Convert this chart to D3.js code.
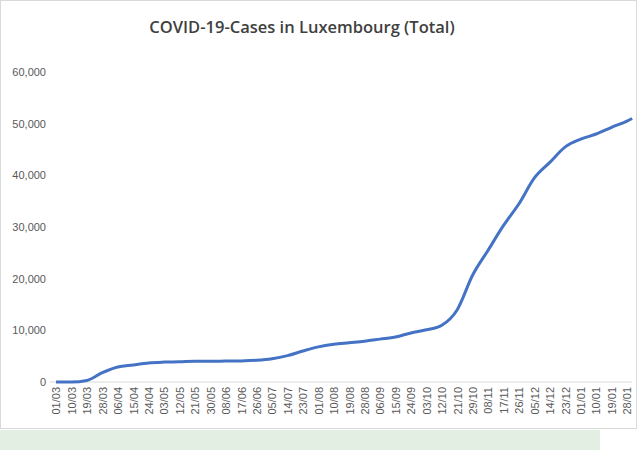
<!DOCTYPE html>
<html><head><meta charset="utf-8">
<script src="https://cdn.jsdelivr.net/npm/d3@7"></script>
<style>body{margin:0;background:#fff;font-family:"Open Sans","Liberation Sans",sans-serif}</style>
</head><body><svg id="c" width="644" height="450"></svg>
<script>
const tickLabels=["01/03","10/03","19/03","28/03","06/04","15/04","24/04","03/05","12/05","21/05","30/05","08/06","17/06","26/06","05/07","14/07","23/07","01/08","10/08","19/08","28/08","06/09","15/09","24/09","03/10","12/10","21/10","29/10","08/11","17/11","26/11","05/12","14/12","23/12","01/01","10/01","19/01","28/01"];
const dayIndex=[0,9,18,27,36,45,54,63,72,81,90,99,108,117,126,135,144,153,162,171,180,189,198,207,216,225,234,243,252,261,270,279,288,297,306,315,324,333,336];
const cases=[0,0,300,1800,2900,3300,3700,3850,3900,4000,4000,4050,4080,4200,4500,5100,6000,6800,7300,7600,7900,8300,8700,9500,10100,11000,14000,20700,25500,30300,34500,39500,42500,45500,47000,48000,49300,50500,51000];
const yTicks=[0,10000,20000,30000,40000,50000,60000];

const svg=d3.select("#c");
svg.append("rect").attr("x",0).attr("y",430).attr("width",600).attr("height",20).attr("fill","#e2efe2");
svg.append("rect").attr("x",0.5).attr("y",0.5).attr("width",636).attr("height",428).attr("fill","#fff").attr("stroke","#d9d9d9");
const x=d3.scaleLinear().domain([0,333]).range([56,627]);
const y=d3.scaleLinear().domain([0,60000]).range([382,72]);
svg.append("text").attr("x",302).attr("y",33).attr("text-anchor","middle").attr("font-size",16.5).attr("font-weight",600).attr("fill","#404040").text("COVID-19-Cases in Luxembourg (Total)");
const ya=svg.append("g").attr("transform","translate(50,0)").call(d3.axisLeft(y).tickValues(yTicks).tickFormat(d3.format(",")).tickSize(0));
ya.select(".domain").remove();
ya.selectAll("text").attr("fill","#595959").attr("font-size",11).attr("x",-4);
svg.append("line").attr("x1",50).attr("x2",632).attr("y1",y(0)).attr("y2",y(0)).attr("stroke","#d9d9d9");
const xa=svg.append("g").attr("transform",`translate(0,${y(0)})`).call(d3.axisBottom(x).tickValues(dayIndex.slice(0,tickLabels.length)).tickFormat((d,i)=>tickLabels[i]).tickSize(0));
xa.select(".domain").remove();
xa.selectAll("text").attr("fill","#595959").attr("font-size",11).attr("transform","rotate(-90)").attr("text-anchor","end").attr("x",-5).attr("y",0).attr("dy","0.35em");
const pts=dayIndex.map((d,i)=>[d,cases[i]]);
svg.append("path").datum(pts).attr("fill","none").attr("stroke","#4472c4").attr("stroke-width",3).attr("stroke-linejoin","round")
 .attr("d",d3.line().x(d=>x(d[0])).y(d=>y(d[1])).curve(d3.curveMonotoneX));
</script></body></html>
